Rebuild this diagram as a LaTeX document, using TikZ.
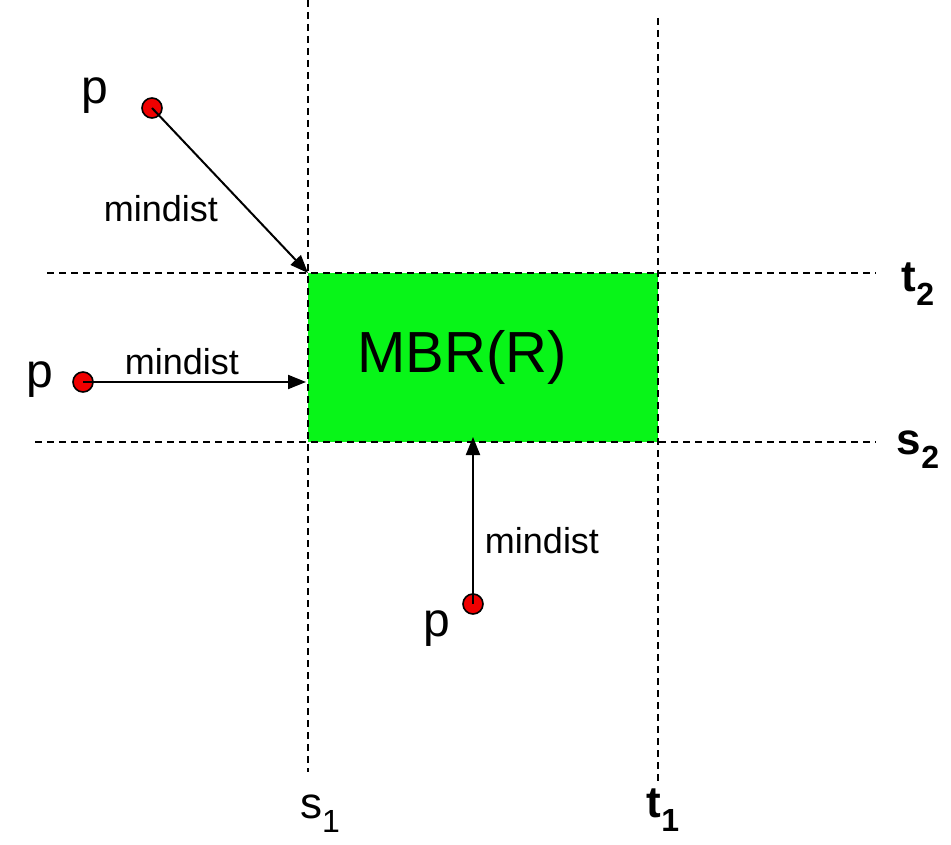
\documentclass[tikz,border=0pt]{standalone}
\usepackage{fontspec}
\setmainfont{Liberation Sans}
\usetikzlibrary{arrows.meta}
\definecolor{mbrgreen}{RGB}{8,245,24}
\definecolor{ptred}{RGB}{240,0,0}
\begin{document}
\begin{tikzpicture}[x=1pt,y=-1pt,
  guide/.style={black,line width=1.6pt,dash pattern=on 7pt off 5pt},
  pt/.style={circle,draw=black,fill=ptred,line width=1.6pt,minimum size=20pt,inner sep=0pt},
  distarrow/.style={black,line width=2pt,-{Triangle[length=18pt,width=14pt]}},
  lbl/.style={inner sep=0pt,font=\fontsize{36}{36}\selectfont},
  plbl/.style={inner sep=0pt,font=\fontsize{48}{48}\selectfont},
  axlbl/.style={inner sep=0pt,font=\fontsize{44}{44}\selectfont}]
\useasboundingbox (0,0) rectangle (951,845);
% green box
\fill[mbrgreen] (308,273) rectangle (658,442);
% guide lines
\coordinate (s1top) at (308,0);
\coordinate (s1bot) at (308,772);
\coordinate (t1top) at (658,18);
\coordinate (t1bot) at (658,785);
\coordinate (t2l) at (47,273);
\coordinate (t2r) at (876,273);
\coordinate (s2l) at (35,442);
\coordinate (s2r) at (876,442);
\draw[guide] (s1top) -- (s1bot);
\draw[guide] (t1top) -- (t1bot);
\draw[guide] (t2l) -- (t2r);
\draw[guide] (s2l) -- (s2r);
% MBR label
\node[inner sep=0pt,font=\fontsize{58}{58}\selectfont] (mbr) at (462,357) {MBR(R)};
% points
\node[pt] (p1) at (152,108) {};
\node[pt] (p2) at (83,382) {};
\node[pt] (p3) at (473,604) {};
\coordinate (c1) at (308,273);
\coordinate (c2) at (306,382);
\coordinate (c3) at (473,437);
\draw[distarrow] (p1.center) -- (c1);
\draw[distarrow] (p2.center) -- (c2);
\draw[distarrow] (p3.center) -- (c3);
% labels
\node[plbl] (lp1) at (95,96) {p};
\node[plbl] (lp2) at (40,380) {p};
\node[plbl] (lp3) at (437,629) {p};
\node[lbl] (m1) at (161,209) {mindist};
\node[lbl] (m2) at (182,362) {mindist};
\node[lbl] (m3) at (542,541) {mindist};
\node[axlbl,font=\fontsize{44}{44}\selectfont\bfseries] (lt2) at (918,284) {t\raisebox{-0.32em}{\fontsize{32}{32}\selectfont 2}};
\node[axlbl,font=\fontsize{44}{44}\selectfont\bfseries] (ls2) at (918,450) {s\raisebox{-0.32em}{\fontsize{32}{32}\selectfont 2}};
\node[axlbl] (ls1) at (320,814) {s\raisebox{-0.32em}{\fontsize{32}{32}\selectfont 1}};
\node[axlbl,font=\fontsize{44}{44}\selectfont\bfseries] (lt1) at (663,810) {t\raisebox{-0.32em}{\fontsize{32}{32}\selectfont 1}};
\end{tikzpicture}
\end{document}
